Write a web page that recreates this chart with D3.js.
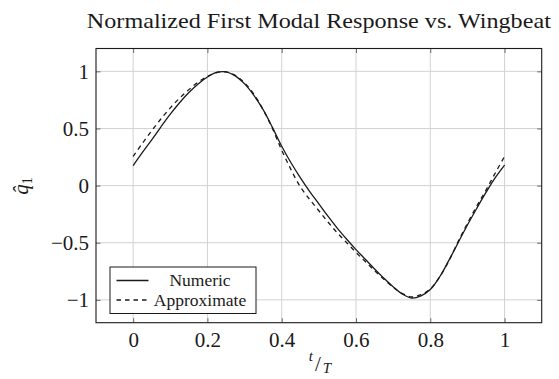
<!DOCTYPE html>
<html>
<head>
<meta charset="utf-8">
<script src="https://cdn.jsdelivr.net/npm/d3@7"></script>
<style>
  body { margin: 0; background: #fff; }
  svg { display: block; }
  text { font-family: "Liberation Serif", "Times New Roman", serif; fill: #1a1a1a; }
</style>
</head>
<body>
<svg id="chart" width="559" height="379"></svg>
<script>
// Normalised time within one wingbeat period
const tValues = [0, 0.025, 0.05, 0.075, 0.1, 0.125, 0.15, 0.175, 0.2, 0.225,
  0.25, 0.275, 0.3, 0.325, 0.35, 0.375, 0.4, 0.425, 0.45, 0.475,
  0.5, 0.525, 0.55, 0.575, 0.6, 0.625, 0.65, 0.675, 0.7, 0.725,
  0.75, 0.775, 0.8, 0.825, 0.85, 0.875, 0.9, 0.925, 0.95, 0.975, 1];

// First modal coordinate from the numerical solution
const numeric = [0.175, 0.29, 0.40, 0.515, 0.625, 0.725, 0.815, 0.89, 0.95, 0.99,
  0.995, 0.96, 0.89, 0.79, 0.665, 0.51, 0.345, 0.2, 0.07, -0.05,
  -0.16, -0.27, -0.375, -0.47, -0.56, -0.645, -0.73, -0.81, -0.885, -0.95,
  -0.985, -0.965, -0.91, -0.8, -0.655, -0.5, -0.345, -0.2, -0.06, 0.07, 0.18];

// First modal coordinate from the approximate model
const approximate = [0.255, 0.37, 0.48, 0.585, 0.68, 0.765, 0.84, 0.905, 0.955, 0.99,
  0.995, 0.965, 0.9, 0.8, 0.665, 0.5, 0.31, 0.14, -0.01, -0.12,
  -0.22, -0.32, -0.415, -0.5, -0.585, -0.665, -0.745, -0.82, -0.89, -0.945,
  -0.975, -0.955, -0.905, -0.8, -0.66, -0.49, -0.33, -0.18, -0.04, 0.11, 0.255];

const xTicks = [0, 0.2, 0.4, 0.6, 0.8, 1];
const xTickLabels = ["0", "0.2", "0.4", "0.6", "0.8", "1"];
const yTicks = [-1, -0.5, 0, 0.5, 1];
const yTickLabels = ["\u22121", "\u22120.5", "0", "0.5", "1"];
const seriesNames = ["Numeric", "Approximate"];

const svg = d3.select("#chart");
const pL = 96, pR = 541.7, pT = 48.5, pB = 322.7;

const x = d3.scaleLinear().domain([-0.1, 1.1]).range([pL, pR]);
const y = d3.scaleLinear().domain([-1.2, 1.2]).range([pB, pT]);

// Grid
const grid = svg.append("g").attr("stroke", "#d2d2d2").attr("stroke-width", 1);
grid.selectAll("line.gx").data(xTicks).join("line").attr("class", "gx")
  .attr("x1", d => x(d)).attr("x2", d => x(d))
  .attr("y1", pT).attr("y2", pB);
grid.selectAll("line.gy").data(yTicks).join("line").attr("class", "gy")
  .attr("x1", pL).attr("x2", pR)
  .attr("y1", d => y(d)).attr("y2", d => y(d));

// Axes with inward ticks on all four sides
const tick = 4.5;
const gB = svg.append("g").attr("transform", `translate(0,${pB})`)
  .call(d3.axisBottom(x).tickValues(xTicks).tickFormat((d, i) => xTickLabels[i])
    .tickSize(-tick).tickPadding(9));
const gT = svg.append("g").attr("transform", `translate(0,${pT})`)
  .call(d3.axisTop(x).tickValues(xTicks).tickFormat("").tickSize(-tick));
const gL = svg.append("g").attr("transform", `translate(${pL},0)`)
  .call(d3.axisLeft(y).tickValues(yTicks).tickFormat((d, i) => yTickLabels[i])
    .tickSize(-tick).tickPadding(7));
const gR = svg.append("g").attr("transform", `translate(${pR},0)`)
  .call(d3.axisRight(y).tickValues(yTicks).tickFormat("").tickSize(-tick));

[gB, gT, gL, gR].forEach(g => {
  g.select(".domain").remove();
  g.selectAll(".tick line").attr("stroke", "#6a6a6a").attr("stroke-width", 1);
  g.selectAll(".tick text").attr("font-size", 21)
    .attr("font-family", "'Liberation Serif', serif").attr("fill", "#1a1a1a");
});

// Curves
const line = d3.line().curve(d3.curveCatmullRom.alpha(0.5))
  .x((d, i) => x(tValues[i])).y(d => y(d));

const plot = svg.append("g");
plot.append("path").datum(numeric).attr("d", line)
  .attr("fill", "none").attr("stroke", "#1a1a1a").attr("stroke-width", 1.3);
plot.append("path").datum(approximate).attr("d", line)
  .attr("fill", "none").attr("stroke", "#1a1a1a").attr("stroke-width", 1.3)
  .attr("stroke-dasharray", "4.5,4");

// Frame
svg.append("rect").attr("x", pL).attr("y", pT)
  .attr("width", pR - pL).attr("height", pB - pT)
  .attr("fill", "none").attr("stroke", "#1a1a1a").attr("stroke-width", 1.1);

// Legend
const lg = svg.append("g");
lg.append("rect").attr("x", 110).attr("y", 267).attr("width", 146).attr("height", 46.5)
  .attr("fill", "#fff").attr("stroke", "#1a1a1a").attr("stroke-width", 1);
const legendRows = [
  { name: seriesNames[0], dash: null, yy: 280.5 },
  { name: seriesNames[1], dash: "4.5,4", yy: 300 }
];
legendRows.forEach(r => {
  lg.append("line").attr("x1", 116.5).attr("x2", 148.5).attr("y1", r.yy).attr("y2", r.yy)
    .attr("stroke", "#1a1a1a").attr("stroke-width", 1.3)
    .attr("stroke-dasharray", r.dash);
  lg.append("text").attr("x", 200).attr("y", r.yy + 5.5).attr("text-anchor", "middle")
    .attr("font-size", 17.5).text(r.name);
});

// Title
svg.append("text").attr("x", (pL + pR) / 2).attr("y", 28)
  .attr("text-anchor", "middle").attr("font-size", 21)
  .attr("textLength", 464).attr("lengthAdjust", "spacingAndGlyphs")
  .text("Normalized First Modal Response vs. Wingbeat");

// y label: q-hat with subscript 1
const yl = svg.append("g").attr("transform", "translate(28,186) rotate(-90)");
const ylt = yl.append("text").attr("text-anchor", "middle").attr("font-size", 21);
ylt.append("tspan").attr("font-style", "italic").text("q\u0302");
ylt.append("tspan").attr("font-size", 14).attr("dy", 4).text("1");

// x label: t over T as a slashed fraction
const xl = svg.append("g").attr("transform", `translate(${(pL + pR) / 2},0)`);
xl.append("text").attr("x", -8).attr("y", 361).attr("text-anchor", "middle")
  .attr("font-size", 15).attr("font-style", "italic").text("t");
xl.append("text").attr("x", -1).attr("y", 371).attr("text-anchor", "middle")
  .attr("font-size", 21).text("/");
xl.append("text").attr("x", 8).attr("y", 373).attr("text-anchor", "middle")
  .attr("font-size", 15).attr("font-style", "italic").text("T");
</script>
</body>
</html>
